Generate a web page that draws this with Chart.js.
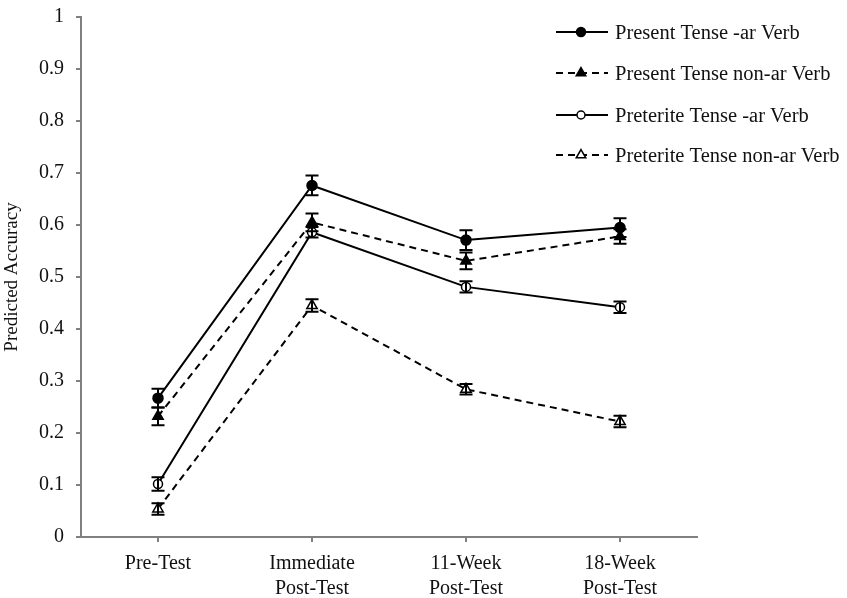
<!DOCTYPE html>
<html>
<head>
<meta charset="utf-8">
<script src="https://cdn.jsdelivr.net/npm/chart.js@4"></script>
<style>
  html, body { margin: 0; padding: 0; background: #fff; }
  canvas { display: block; }
</style>
</head>
<body>
<canvas id="c" width="847" height="598"></canvas>
<script>
// Test sessions along the x axis
const categories = ['Pre-Test', ['Immediate', 'Post-Test'], ['11-Week', 'Post-Test'], ['18-Week', 'Post-Test']];

// Predicted accuracy per condition, with standard errors
const presentAr      = [0.267, 0.676, 0.571, 0.595];
const presentArErr   = [0.018, 0.019, 0.019, 0.018];
const presentNonAr    = [0.232, 0.605, 0.531, 0.578];
const presentNonArErr = [0.017, 0.017, 0.016, 0.014];
const preteriteAr      = [0.102, 0.586, 0.481, 0.442];
const preteriteArErr   = [0.013, 0.010, 0.011, 0.011];
const preteriteNonAr    = [0.054, 0.445, 0.284, 0.222];
const preteriteNonArErr = [0.011, 0.012, 0.010, 0.011];

const seriesNames = ['Present Tense -ar Verb', 'Present Tense non-ar Verb', 'Preterite Tense -ar Verb', 'Preterite Tense non-ar Verb'];
const yTicks = [0, 0.1, 0.2, 0.3, 0.4, 0.5, 0.6, 0.7, 0.8, 0.9, 1];

const SERIF = '"Liberation Serif", "DejaVu Serif", serif';
const DASH = [7, 5];

function makeSeries(label, data, err, style, filled, dashed) {
  return {
    label, data, err,
    borderColor: '#000',
    borderWidth: 2,
    borderDash: dashed ? DASH : [],
    pointStyle: style,
    pointRadius: style === 'triangle' ? 6 : (filled ? 5 : 4.5),
    pointBorderWidth: 1.5,
    pointBorderColor: '#000',
    pointBackgroundColor: filled ? '#000' : '#fff',
    tension: 0,
    fill: false
  };
}

const datasets = [
  makeSeries(seriesNames[0], presentAr, presentArErr, 'circle', true, false),
  makeSeries(seriesNames[1], presentNonAr, presentNonArErr, 'triangle', true, true),
  makeSeries(seriesNames[2], preteriteAr, preteriteArErr, 'circle', false, false),
  makeSeries(seriesNames[3], preteriteNonAr, preteriteNonArErr, 'triangle', false, true)
];

// Vertical error bars with caps, placed through the chart's own scales
const errorBars = {
  id: 'errorBars',
  afterDatasetsDraw(chart) {
    const ctx = chart.ctx;
    const y = chart.scales.y;
    ctx.save();
    ctx.strokeStyle = '#000';
    ctx.lineWidth = 2;
    ctx.setLineDash([]);
    chart.data.datasets.forEach((ds, di) => {
      const meta = chart.getDatasetMeta(di);
      meta.data.forEach((pt, i) => {
        const v = ds.data[i], e = ds.err[i];
        const top = y.getPixelForValue(v + e);
        const bot = y.getPixelForValue(v - e);
        const x = pt.x, cap = 6.5;
        ctx.beginPath();
        ctx.moveTo(x, top); ctx.lineTo(x, bot);
        ctx.moveTo(x - cap, top); ctx.lineTo(x + cap, top);
        ctx.moveTo(x - cap, bot); ctx.lineTo(x + cap, bot);
        ctx.stroke();
      });
    });
    ctx.restore();
  }
};

// Legend block in the upper right corner
const sideLegend = {
  id: 'sideLegend',
  afterDraw(chart) {
    const ctx = chart.ctx;
    const rows = [32, 73, 115, 155];
    ctx.save();
    chart.data.datasets.forEach((ds, i) => {
      const yy = rows[i];
      ctx.strokeStyle = '#000';
      ctx.lineWidth = 2;
      ctx.setLineDash(ds.borderDash);
      ctx.beginPath();
      ctx.moveTo(556, yy); ctx.lineTo(608, yy);
      ctx.stroke();
      ctx.setLineDash([]);
      ctx.lineWidth = 1.5;
      ctx.fillStyle = ds.pointBackgroundColor;
      Chart.helpers.drawPoint(ctx, { pointStyle: ds.pointStyle, radius: ds.pointRadius - 0.5, borderWidth: 1.5 }, 581, yy);
      ctx.fillStyle = '#111';
      ctx.font = '20.5px ' + SERIF;
      ctx.textBaseline = 'alphabetic';
      ctx.textAlign = 'left';
      ctx.fillText(ds.label, 615, yy + 6.5);
    });
    ctx.restore();
  }
};

new Chart(document.getElementById('c'), {
  type: 'line',
  data: { labels: categories, datasets },
  plugins: [errorBars, sideLegend],
  options: {
    responsive: false,
    animation: false,
    layout: { padding: { top: 17, right: 150, bottom: 0, left: 0 } },
    plugins: { legend: { display: false }, tooltip: { enabled: false } },
    scales: {
      x: {
        type: 'category',
        offset: true,
        afterFit(scale) { scale.height = 61; },
        grid: { drawOnChartArea: false, offset: false, drawTicks: true, tickLength: 5, color: '#808080', lineWidth: 2 },
        border: { color: '#808080', width: 2 },
        ticks: { color: '#111', font: { family: SERIF, size: 20, lineHeight: 1.25 }, padding: 9, maxRotation: 0, autoSkip: false }
      },
      y: {
        min: 0, max: 1,
        afterFit(scale) { scale.width = 81; scale.paddingTop = 0; scale.paddingBottom = 0; },
        afterBuildTicks(scale) { scale.ticks = yTicks.map(v => ({ value: v })); },
        grid: { drawOnChartArea: false, drawTicks: true, tickLength: 5, color: '#808080', lineWidth: 2 },
        border: { color: '#808080', width: 2 },
        ticks: {
          color: '#111', font: { family: SERIF, size: 20 }, padding: 12,
          callback: v => String(Math.round(v * 10) / 10)
        },
        title: { display: true, text: 'Predicted Accuracy', color: '#111', font: { family: SERIF, size: 19 }, padding: { top: 1, bottom: 0 } }
      }
    }
  }
});
</script>
</body>
</html>
